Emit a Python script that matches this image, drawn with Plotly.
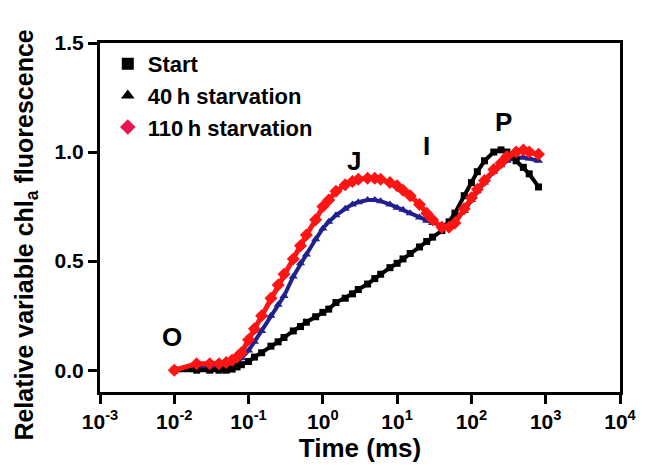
import plotly.graph_objects as go

time_ms = [0.01, 0.02, 0.03, 0.04, 0.05, 0.06, 0.07, 0.08, 0.1, 0.12, 0.15, 0.2, 0.25, 0.3,
           0.4, 0.5, 0.6, 0.8, 1, 1.2, 1.5, 2, 2.5, 3, 4, 5, 6, 8, 10, 12, 15, 20, 25, 30,
           40, 50, 60, 80, 100, 120, 150, 200, 250, 300, 400, 500, 600, 800]

start = [0.0, 0.0, 0.0, 0.0, 0.0, 0.005, 0.015, 0.025, 0.04, 0.06, 0.08, 0.11, 0.13, 0.15,
         0.18, 0.20, 0.22, 0.245, 0.265, 0.28, 0.31, 0.33, 0.35, 0.37, 0.395, 0.42, 0.44, 0.47,
         0.49, 0.51, 0.535, 0.565, 0.59, 0.61, 0.64, 0.68, 0.72, 0.80, 0.86, 0.91, 0.96, 1.0,
         1.01, 1.0, 0.96, 0.93, 0.90, 0.84]

starv40 = [0.0, 0.01, 0.01, 0.015, 0.02, 0.03, 0.04, 0.055, 0.09, 0.13, 0.18, 0.25, 0.30, 0.34,
           0.43, 0.49, 0.53, 0.60, 0.65, 0.68, 0.71, 0.74, 0.76, 0.77, 0.78, 0.78, 0.775, 0.76,
           0.745, 0.735, 0.72, 0.70, 0.685, 0.675, 0.665, 0.67, 0.685, 0.73, 0.78, 0.82, 0.86,
           0.91, 0.94, 0.96, 0.975, 0.975, 0.97, 0.96]

starv110 = [0.0, 0.03, 0.03, 0.03, 0.035, 0.045, 0.06, 0.08, 0.14, 0.19, 0.25, 0.33, 0.39, 0.44,
            0.51, 0.57, 0.62, 0.69, 0.75, 0.78, 0.82, 0.85, 0.865, 0.875, 0.88, 0.88, 0.875, 0.86,
            0.845, 0.825, 0.80, 0.76, 0.72, 0.69, 0.655, 0.655, 0.675, 0.74, 0.79, 0.83, 0.87,
            0.92, 0.95, 0.98, 1.0, 1.01, 1.0, 0.99]

x_tickvals = [1e-3, 1e-2, 1e-1, 1e0, 1e1, 1e2, 1e3, 1e4]
x_ticktext = ["10<sup>-3</sup>", "10<sup>-2</sup>", "10<sup>-1</sup>", "10<sup>0</sup>",
              "10<sup>1</sup>", "10<sup>2</sup>", "10<sup>3</sup>", "10<sup>4</sup>"]
y_tickvals = [0.0, 0.5, 1.0, 1.5]

phase_labels = ["O", "J", "I", "P"]
phase_logx = [-2.03, 0.42, 1.40, 2.43]
phase_y = [0.15, 0.96, 1.03, 1.14]

FONT = "Liberation Sans, Arial, sans-serif"
RED = "#ff1414"
BLUE = "#20208f"

fig = go.Figure()

fig.add_trace(go.Scatter(x=time_ms, y=starv40, mode="lines+markers", showlegend=False,
                         line=dict(color=BLUE, width=4),
                         marker=dict(symbol="triangle-up", size=8, color=BLUE)))
fig.add_trace(go.Scatter(x=time_ms, y=start, mode="lines+markers", showlegend=False,
                         line=dict(color="black", width=4),
                         marker=dict(symbol="square", size=7, color="black")))
fig.add_trace(go.Scatter(x=time_ms, y=starv110, mode="lines+markers", showlegend=False,
                         line=dict(color=RED, width=5),
                         marker=dict(symbol="diamond", size=10, color=RED)))

# legend entries
fig.add_trace(go.Scatter(x=[None], y=[None], mode="markers", name="Start", legendgroup="a",
                         marker=dict(symbol="square", size=8, color="black")))
fig.add_trace(go.Scatter(x=[None], y=[None], mode="markers", name="40\u2009h starvation",
                         legendgroup="b",
                         marker=dict(symbol="triangle-up", size=8, color="black")))
fig.add_trace(go.Scatter(x=[None], y=[None], mode="markers", name="110\u2009h starvation",
                         legendgroup="c",
                         marker=dict(symbol="diamond", size=11, color="#e8174f")))

for t, lx, ly in zip(phase_labels, phase_logx, phase_y):
    fig.add_annotation(x=lx, y=ly, text=t, showarrow=False, xref="x", yref="y",
                       font=dict(family=FONT, size=26, color="black", weight="bold"))

# y-axis title (as annotation to match its vertical placement)
fig.add_annotation(x=-0.143, y=0.45, xref="paper", yref="paper", textangle=-90,
                   text="Relative variable chl<sub>a</sub> fluorescence", showarrow=False,
                   xanchor="center", yanchor="middle",
                   font=dict(family=FONT, size=25, color="black", weight="bold"))

fig.update_xaxes(type="log", range=[-3, 4], tickvals=x_tickvals, ticktext=x_ticktext,
                 showline=True, linewidth=3, linecolor="black", mirror=True,
                 ticks="outside", ticklen=9, tickwidth=3, tickcolor="black",
                 showgrid=False, zeroline=False,
                 tickfont=dict(family=FONT, size=21, color="black", weight="bold"),
                 title=dict(text="Time (ms)", standoff=6,
                            font=dict(family=FONT, size=26, color="black", weight="bold")))
fig.update_yaxes(range=[-0.1, 1.5], tickvals=y_tickvals, tickformat=".1f",
                 showline=True, linewidth=3, linecolor="black", mirror=True,
                 ticks="outside", ticklen=9, tickwidth=3, tickcolor="black",
                 showgrid=False, zeroline=False,
                 tickfont=dict(family=FONT, size=21, color="black", weight="bold"))

fig.update_layout(
    width=649, height=471,
    margin=dict(l=100, r=27, t=43, b=79),
    paper_bgcolor="white", plot_bgcolor="white",
    legend=dict(x=0.015, y=1.0, xanchor="left", yanchor="top",
                bgcolor="rgba(0,0,0,0)", traceorder="grouped", tracegroupgap=0,
                itemsizing="constant",
                font=dict(family=FONT, size=22, color="black", weight="bold")),
)

fig.write_html("out.html")
